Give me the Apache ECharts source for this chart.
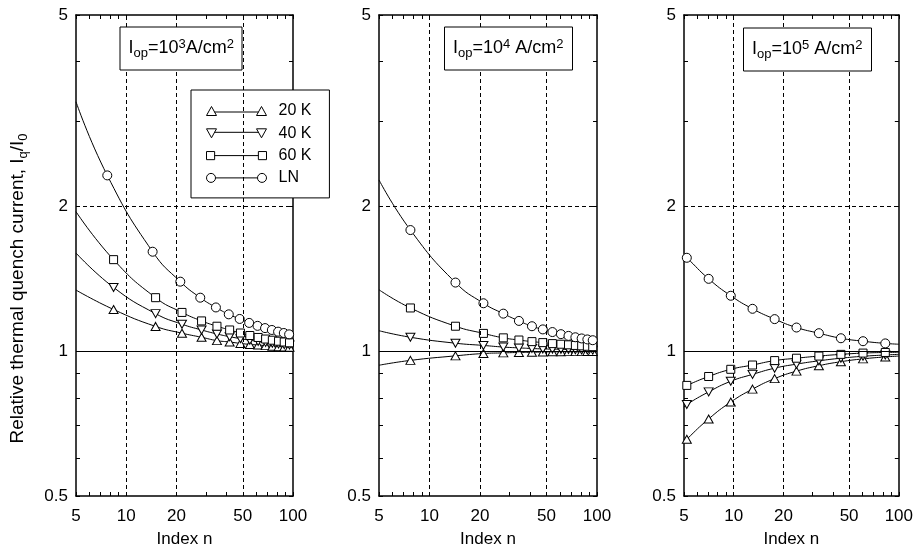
<!DOCTYPE html>
<html><head><meta charset="utf-8">
<script src="https://cdn.jsdelivr.net/npm/echarts@6/dist/echarts.min.js"></script>
<style>html,body{margin:0;padding:0;background:#fff}#c{width:916px;height:553px}</style>
</head><body><div id="c"></div>
<script>
// ---------- data ----------
const seriesNames = ['20 K', '40 K', '60 K', 'LN'];
const xTickLabels = [5, 10, 20, 50, 100];
const yTickLabels = [0.5, 1, 2, 5];
const xMinorTicks = [5, 6, 7, 8, 9, 10, 20, 30, 40, 50, 60, 70, 80, 90, 100];
const yMinorTicks = [0.5, 0.6, 0.7, 0.8, 0.9, 1, 2, 3, 4, 5];
const xGridLines = [10, 20, 50];
const yDashedLines = [2];
const yRefLine = [1];
const curveEnds = [5, 100];   // n where the curves start / end

// Panel 1 : Iop = 1e3 A/cm2
const p1nLN = [7.7, 14.4, 21.1, 27.8, 34.5, 41.2, 47.9, 54.6, 61.3, 68.0, 74.7, 81.4, 88.1, 94.8];
const p1nK  = [8.4, 15.0, 21.6, 28.3, 35.0, 41.7, 48.4, 55.1, 61.8, 68.5, 75.2, 81.9, 88.6, 95.3];
const p1_20K = [1.221, 1.126, 1.090, 1.069, 1.052, 1.045, 1.038, 1.033, 1.030, 1.027, 1.024, 1.022, 1.020, 1.019];
const p1_40K = [1.357, 1.197, 1.138, 1.107, 1.086, 1.072, 1.062, 1.054, 1.048, 1.043, 1.039, 1.035, 1.032, 1.030];
const p1_60K = [1.550, 1.292, 1.204, 1.156, 1.127, 1.107, 1.091, 1.078, 1.068, 1.060, 1.054, 1.049, 1.045, 1.041];
const p1_LN  = [2.320, 1.610, 1.395, 1.292, 1.233, 1.193, 1.167, 1.145, 1.129, 1.117, 1.107, 1.098, 1.091, 1.084];
const p1Start = [1.34, 1.60, 1.95, 3.30];   // 20K, 40K, 60K, LN at n=5
const p1End   = [1.018, 1.028, 1.038, 1.080];

// Panel 2 : Iop = 1e4 A/cm2
const p2n = [7.7, 14.3, 21.0, 27.6, 34.2, 40.9, 47.5, 54.2, 60.9, 67.6, 74.3, 81.0, 87.6, 94.3];
const p2_20K = [0.957, 0.978, 0.989, 0.992, 0.994, 0.995, 0.996, 0.997, 0.997, 0.998, 0.998, 0.998, 0.999, 0.999];
const p2_40K = [1.069, 1.039, 1.028, 1.020, 1.016, 1.013, 1.011, 1.010, 1.009, 1.008, 1.007, 1.006, 1.006, 1.005];
const p2_60K = [1.230, 1.127, 1.089, 1.066, 1.055, 1.047, 1.042, 1.037, 1.034, 1.031, 1.028, 1.026, 1.024, 1.022];
const p2_LN  = [1.786, 1.389, 1.258, 1.197, 1.156, 1.127, 1.110, 1.096, 1.085, 1.076, 1.069, 1.063, 1.058, 1.054];
const p2Start = [0.935, 1.103, 1.342, 2.27];
const p2End   = [0.999, 1.005, 1.021, 1.052];

// Panel 3 : Iop = 1e5 A/cm2
const p3n = [5.2, 7.05, 9.6, 13.0, 17.7, 24.0, 32.8, 44.6, 60.7, 82.8];
const p3_20K = [0.656, 0.723, 0.784, 0.834, 0.877, 0.909, 0.933, 0.951, 0.964, 0.973];
const p3_40K = [0.775, 0.823, 0.866, 0.895, 0.922, 0.940, 0.955, 0.967, 0.976, 0.982];
const p3_60K = [0.849, 0.886, 0.917, 0.936, 0.956, 0.967, 0.977, 0.985, 0.991, 0.994];
const p3_LN  = [1.564, 1.414, 1.304, 1.225, 1.166, 1.120, 1.090, 1.064, 1.049, 1.038];
const p3Start = [0.645, 0.765, 0.843, 1.58];
const p3End   = [0.977, 0.985, 0.995, 1.034];

// ---------- styling / building ----------
const FONT = '"Liberation Sans", Arial, Helvetica, sans-serif';
const gridsPos = [{left: 76, width: 217}, {left: 379, width: 218}, {left: 684, width: 218}];

const symbolDefs = [
  {symbol: 'triangle', rotate: 0, size: [9, 8]},
  {symbol: 'triangle', rotate: 180, size: [9, 8]},
  {symbol: 'rect', rotate: 0, size: 8},
  {symbol: 'circle', rotate: 0, size: 9}
];

const panels = [
  {nK: p1nK, nLN: p1nLN, vals: [p1_20K, p1_40K, p1_60K, p1_LN], start: p1Start, end: p1End},
  {nK: p2n, nLN: p2n, vals: [p2_20K, p2_40K, p2_60K, p2_LN], start: p2Start, end: p2End},
  {nK: p3n, nLN: p3n, vals: [p3_20K, p3_40K, p3_60K, p3_LN], start: p3Start, end: p3End}
];

const axisLineStyle = {color: '#000', width: 1.5};
const xAxes = [], yAxes = [], grids = [];
gridsPos.forEach((g, i) => {
  grids.push({left: g.left, width: g.width, top: 15, height: 490, show: false});
  const common = {type: 'log', logBase: 10, gridIndex: i, splitLine: {show: false},
    axisLine: {show: true, lineStyle: axisLineStyle}};
  xAxes.push(Object.assign({}, common, {
    min: 5, max: 100, position: 'bottom',
    axisTick: {show: true, inside: true, length: 4, customValues: xMinorTicks, lineStyle: {color: '#000'}},
    axisLabel: {show: true, customValues: xTickLabels, hideOverlap: false, margin: 12,
      color: '#000', fontSize: 17, fontFamily: FONT},
    name: 'Index n', nameLocation: 'middle', nameGap: 35,
    nameTextStyle: {color: '#000', fontSize: 17, fontFamily: FONT}
  }));
  xAxes.push(Object.assign({}, common, {
    min: 5, max: 100, position: 'top',
    axisTick: {show: true, inside: true, length: 4, customValues: xMinorTicks, lineStyle: {color: '#000'}},
    axisLabel: {show: false}
  }));
  const yl = Object.assign({}, common, {
    min: 0.5, max: 5, position: 'left',
    axisTick: {show: true, inside: true, length: 4, customValues: yMinorTicks, lineStyle: {color: '#000'}},
    axisLabel: {show: true, customValues: yTickLabels, hideOverlap: false, margin: 8,
      color: '#000', fontSize: 17, fontFamily: FONT}
  });
  if (i === 0) {
    yl.name = 'Relative thermal quench current, I{s|q}/I{s|0}';
    yl.nameLocation = 'middle';
    yl.nameGap = 46;
    yl.nameTextStyle = {color: '#000', fontSize: 19, fontFamily: FONT, lineHeight: 24,
      padding: [0, 66, 0, 0],
      rich: {s: {fontSize: 13, lineHeight: 13, verticalAlign: 'bottom', fontFamily: FONT, color: '#000'}}};
  }
  yAxes.push(yl);
  yAxes.push(Object.assign({}, common, {
    min: 0.5, max: 5, position: 'right',
    axisTick: {show: true, inside: true, length: 4, customValues: yMinorTicks, lineStyle: {color: '#000'}},
    axisLabel: {show: false}
  }));
});

const series = [];
panels.forEach((p, gi) => {
  seriesNames.forEach((name, si) => {
    const nArr = si === 3 ? p.nLN : p.nK;
    const vals = p.vals[si];
    const data = [{value: [curveEnds[0], p.start[si]], symbol: 'none'}]
      .concat(nArr.map((n, k) => [n, vals[k]]))
      .concat([{value: [curveEnds[1], p.end[si]], symbol: 'none'}]);
    const sd = symbolDefs[si];
    const s = {
      type: 'line', name: name, xAxisIndex: gi * 2, yAxisIndex: gi * 2,
      data: data, smooth: 0.5,
      symbol: sd.symbol, symbolRotate: sd.rotate, symbolSize: sd.size,
      showSymbol: true, showAllSymbol: true,
      lineStyle: {color: '#000', width: 1},
      itemStyle: {color: '#fff', borderColor: '#000', borderWidth: 1},
      emphasis: {disabled: true}, animation: false, z: 3
    };
    if (si === 3) {
      s.markLine = {
        silent: true, symbol: ['none', 'none'], label: {show: false}, animation: false,
        lineStyle: {color: '#000', width: 1},
        data: xGridLines.map(v => ({xAxis: v, lineStyle: {type: [4, 3], color: '#000', width: 1}}))
          .concat(yDashedLines.map(v => ({yAxis: v, lineStyle: {type: [4, 3], color: '#000', width: 1}})))
          .concat(yRefLine.map(v => ({yAxis: v, lineStyle: {type: 'solid', color: '#000', width: 1.2}})))
      };
    }
    series.push(s);
  });
});

const titleRich = {
  m: {fontSize: 18, lineHeight: 22, verticalAlign: 'middle', fontFamily: FONT, color: '#000'},
  s: {fontSize: 13, lineHeight: 11, verticalAlign: 'bottom', fontFamily: FONT, color: '#000'},
  p: {fontSize: 13, lineHeight: 11, verticalAlign: 'top', fontFamily: FONT, color: '#000'}
};
function mkTitle(left, top, text, padH) {
  return {left: left, top: top, text: text, padding: [10.5, padH], borderColor: '#000', borderWidth: 1,
    backgroundColor: '#fff', textStyle: {rich: titleRich, fontSize: 18, fontWeight: 'normal', fontFamily: FONT}};
}

const legendPaths = [
  'path://M0,9L5,0L10,9Z M8,5.5L52,5.5 M50,9L55,0L60,9Z',
  'path://M0,0L5,9L10,0Z M8,3.5L52,3.5 M50,0L55,9L60,0Z',
  'path://M0.5,0.5L8.5,0.5L8.5,8.5L0.5,8.5Z M8.5,4.5L51.5,4.5 M51.5,0.5L59.5,0.5L59.5,8.5L51.5,8.5Z',
  'path://M0,4.5A4.5,4.5 0 1 1 9,4.5A4.5,4.5 0 1 1 0,4.5Z M9,4.5L51,4.5 M51,4.5A4.5,4.5 0 1 1 60,4.5A4.5,4.5 0 1 1 51,4.5Z'
];

const option = {
  backgroundColor: '#fff',
  animation: false,
  title: [
    mkTitle(120, 27, '{m|I}{s|op}{m|=10}{p|3}{m|A/cm}{p|2}', 8.5),
    mkTitle(444, 27, '{m|I}{s|op}{m|=10}{p|4}{m| A/cm}{p|2}', 9),
    mkTitle(743, 28, '{m|I}{s|op}{m|=10}{p|5}{m| A/cm}{p|2}', 9)
  ],
  legend: {
    orient: 'vertical', left: 191, top: 90,
    padding: [13, 18, 12, 15], itemGap: 6.3, itemWidth: 60, itemHeight: 9,
    backgroundColor: '#fff', borderColor: '#000', borderWidth: 1,
    selectedMode: false,
    itemStyle: {color: '#fff', borderColor: '#000', borderWidth: 1},
    textStyle: {fontSize: 16, color: '#000', fontFamily: FONT, padding: [0, 0, 0, 7]},
    data: seriesNames.map((n, i) => ({name: n, icon: legendPaths[i]}))
  },
  grid: grids,
  xAxis: xAxes,
  yAxis: yAxes,
  series: series
};

const chart = echarts.init(document.getElementById('c'), null, {renderer: 'canvas'});
chart.setOption(option);
</script></body></html>
